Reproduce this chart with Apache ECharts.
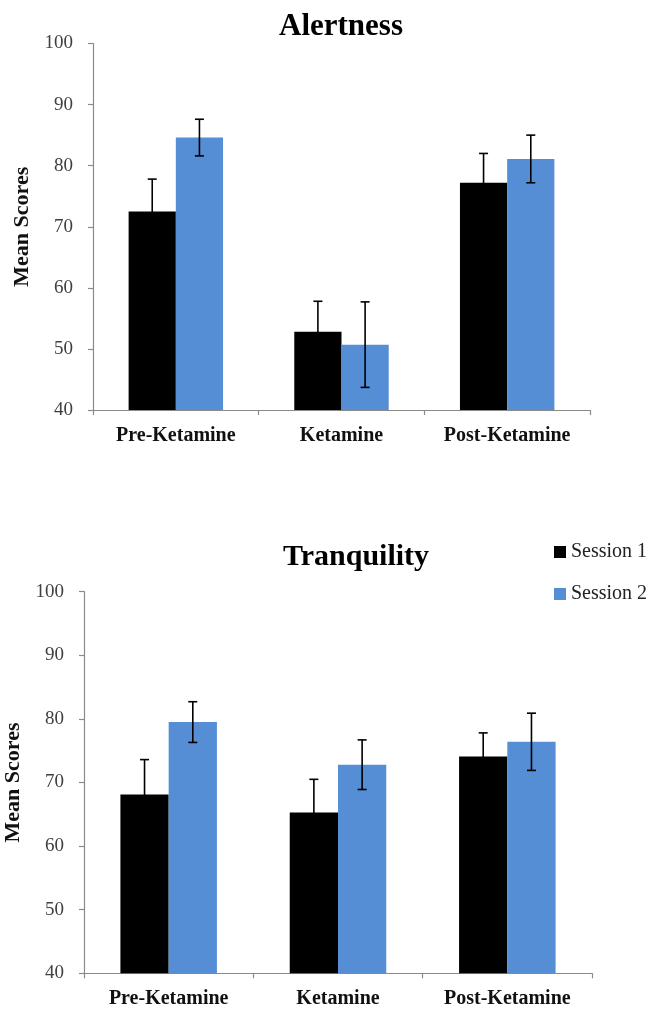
<!DOCTYPE html>
<html>
<head>
<meta charset="utf-8">
<script src="https://cdn.jsdelivr.net/npm/echarts@6/dist/echarts.min.js"></script>
<style>
  html, body { margin: 0; padding: 0; background: #fff; }
  #chart { width: 654px; height: 1012px; }
</style>
</head>
<body>
<div id="chart"></div>
<script>
var categories = ['Pre-Ketamine', 'Ketamine', 'Post-Ketamine'];
var seriesNames = ['Session 1', 'Session 2'];
var alertS1 = [72.5, 52.8, 77.2];
var alertS1Err = [5.3, 5.0, 4.8];
var alertS2 = [84.6, 50.7, 81.1];
var alertS2Err = [3.0, 7.0, 3.9];
var tranqS1 = [68.1, 65.3, 74.1];
var tranqS1Err = [5.5, 5.2, 3.7];
var tranqS2 = [79.5, 72.8, 76.4];
var tranqS2Err = [3.2, 3.9, 4.5];
var yTicks = [40, 50, 60, 70, 80, 90, 100];

var FONT = '"Liberation Serif", "Times New Roman", serif';
var BLUE = '#558ED5';
var AXIS = '#8a8a8a';
var GAP = 0.43;

function errData(vals, errs) {
  return vals.map(function (v, i) { return [i, v, errs[i]]; });
}

function errSeries(gridIdx, vals, errs, side) {
  return {
    type: 'custom',
    xAxisIndex: gridIdx,
    yAxisIndex: gridIdx,
    z: 10,
    silent: true,
    encode: { x: 0, y: 1 },
    data: errData(vals, errs),
    renderItem: function (params, api) {
      var idx = api.value(0);
      var v = api.value(1);
      var e = api.value(2);
      var catW = api.size([1, 0])[0];
      var barW = catW * (1 - GAP) / 2;
      var c = api.coord([idx, v]);
      var x = c[0] + side * barW / 2;
      var yTop = api.coord([idx, v + e])[1];
      var yBot = api.coord([idx, v - e])[1];
      var cap = 4.5;
      var style = { stroke: '#000', lineWidth: 1.6 };
      return {
        type: 'group',
        children: [
          { type: 'line', shape: { x1: x, y1: yTop, x2: x, y2: yBot }, style: style },
          { type: 'line', shape: { x1: x - cap, y1: yTop, x2: x + cap, y2: yTop }, style: style },
          { type: 'line', shape: { x1: x - cap, y1: yBot, x2: x + cap, y2: yBot }, style: style }
        ]
      };
    }
  };
}

function xAxisCfg(gridIdx) {
  return {
    type: 'category',
    gridIndex: gridIdx,
    data: categories,
    axisLine: { lineStyle: { color: AXIS, width: 1.2 } },
    axisTick: { show: true, length: 5, lineStyle: { color: AXIS, width: 1.2 } },
    axisLabel: { fontFamily: FONT, fontWeight: 'bold', fontSize: 20, color: '#111', margin: 16 }
  };
}

function yAxisCfg(gridIdx, gap) {
  return {
    type: 'value',
    gridIndex: gridIdx,
    min: yTicks[0],
    max: yTicks[yTicks.length - 1],
    interval: 10,
    name: 'Mean Scores',
    nameLocation: 'middle',
    nameRotate: 90,
    nameGap: gap,
    nameTextStyle: { fontFamily: FONT, fontWeight: 'bold', fontSize: 22, color: '#111' },
    axisLine: { show: true, lineStyle: { color: AXIS, width: 1.2 } },
    axisTick: { show: true, length: 5, lineStyle: { color: AXIS, width: 1.2 } },
    splitLine: { show: false },
    axisLabel: { fontFamily: FONT, fontSize: 19, color: '#404040', margin: 20 }
  };
}

var chart = echarts.init(document.getElementById('chart'), null, { renderer: 'canvas' });
chart.setOption({
  animation: false,
  backgroundColor: '#fff',
  title: [
    { text: 'Alertness', left: 336, top: 22, textAlign: 'center', textVerticalAlign: 'middle',
      textStyle: { fontFamily: FONT, fontWeight: 'bold', fontSize: 31, color: '#000' } },
    { text: 'Tranquility', left: 351, top: 552, textAlign: 'center', textVerticalAlign: 'middle',
      textStyle: { fontFamily: FONT, fontWeight: 'bold', fontSize: 30, color: '#000' } }
  ],
  legend: {
    data: seriesNames,
    orient: 'vertical',
    left: 549,
    top: 537,
    itemWidth: 12,
    itemHeight: 12,
    itemGap: 22,
    icon: 'rect',
    textStyle: { fontFamily: FONT, fontSize: 20, color: '#222' }
  },
  grid: [
    { left: 93, right: 64, top: 43.5, height: 366.5, containLabel: false, outerBoundsMode: 'none' },
    { left: 84, right: 62, top: 591.7, height: 381.6, containLabel: false, outerBoundsMode: 'none' }
  ],
  xAxis: [xAxisCfg(0), xAxisCfg(1)],
  yAxis: [yAxisCfg(0, 55), yAxisCfg(1, 56)],
  series: [
    { name: seriesNames[0], type: 'bar', xAxisIndex: 0, yAxisIndex: 0, data: alertS1,
      barGap: '0%', barCategoryGap: (GAP * 100) + '%', itemStyle: { color: '#000' } },
    { name: seriesNames[1], type: 'bar', xAxisIndex: 0, yAxisIndex: 0, data: alertS2,
      barGap: '0%', barCategoryGap: (GAP * 100) + '%', itemStyle: { color: BLUE } },
    { name: seriesNames[0], type: 'bar', xAxisIndex: 1, yAxisIndex: 1, data: tranqS1,
      barGap: '0%', barCategoryGap: (GAP * 100) + '%', itemStyle: { color: '#000' } },
    { name: seriesNames[1], type: 'bar', xAxisIndex: 1, yAxisIndex: 1, data: tranqS2,
      barGap: '0%', barCategoryGap: (GAP * 100) + '%', itemStyle: { color: BLUE } },
    errSeries(0, alertS1, alertS1Err, -1),
    errSeries(0, alertS2, alertS2Err, 1),
    errSeries(1, tranqS1, tranqS1Err, -1),
    errSeries(1, tranqS2, tranqS2Err, 1)
  ]
});
</script>
</body>
</html>
